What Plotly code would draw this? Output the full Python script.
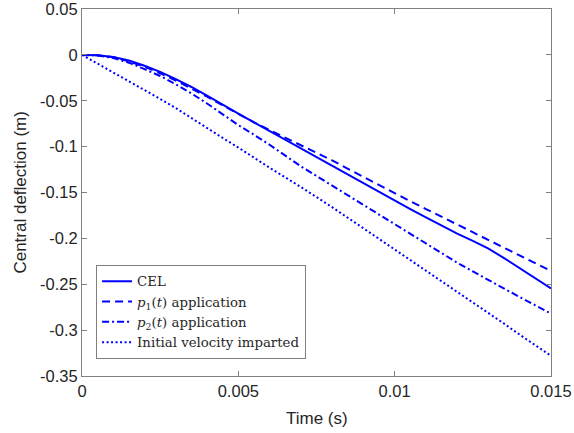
import plotly.graph_objects as go

# ---- data ----
time = [0, 0.0005, 0.001, 0.0015, 0.002, 0.0025, 0.003, 0.0035, 0.004, 0.0045,
        0.005, 0.0055, 0.006, 0.007, 0.008, 0.009, 0.010, 0.0105, 0.011, 0.0115,
        0.012, 0.0125, 0.013, 0.0135, 0.014, 0.0145, 0.015]

cel = [0, -0.0004, -0.0022, -0.0062, -0.0118, -0.0185, -0.0265, -0.035, -0.0445, -0.0545,
       -0.064, -0.0735, -0.083, -0.102, -0.121, -0.140, -0.159, -0.168, -0.177, -0.1862,
       -0.1948, -0.2028, -0.2112, -0.2215, -0.2325, -0.2435, -0.2545]

p1 = [0, -0.0005, -0.0025, -0.007, -0.013, -0.020, -0.028, -0.0365, -0.0455, -0.055,
      -0.0645, -0.0735, -0.082, -0.0985, -0.115, -0.133, -0.151, -0.1595, -0.168, -0.1765,
      -0.185, -0.193, -0.2015, -0.210, -0.2185, -0.227, -0.2355]

p2 = [0, -0.0006, -0.0035, -0.0085, -0.0155, -0.023, -0.032, -0.042, -0.053, -0.065,
      -0.0765, -0.087, -0.098, -0.1215, -0.1425, -0.1635, -0.185, -0.1955, -0.206, -0.2163,
      -0.2265, -0.236, -0.2455, -0.255, -0.264, -0.273, -0.282]

init_vel = [0, -0.0095, -0.019, -0.0285, -0.038, -0.048, -0.058, -0.069, -0.080, -0.0905,
            -0.101, -0.112, -0.123, -0.144, -0.166, -0.189, -0.212, -0.2235, -0.235, -0.2465,
            -0.258, -0.2695, -0.281, -0.293, -0.305, -0.3165, -0.328]

series_names = ["CEL",
                "<i>p</i><sub>1</sub>(<i>t</i>) application",
                "<i>p</i><sub>2</sub>(<i>t</i>) application",
                "Initial velocity imparted"]

x_title = "Time (s)"
y_title = "Central deflection (m)"
x_tick_vals = [0, 0.005, 0.01, 0.015]
x_tick_labels = ["0", "0.005", "0.01", "0.015"]
y_tick_vals = [0.05, 0, -0.05, -0.1, -0.15, -0.2, -0.25, -0.3, -0.35]
y_tick_labels = ["0.05", "0", "-0.05", "-0.1", "-0.15", "-0.2", "-0.25", "-0.3", "-0.35"]

# ---- figure ----
blue = "#0000FF"
dashes = ["solid", "8px,5px", "7px,3px,2px,3px", "2px,2.5px"]
ys = [cel, p1, p2, init_vel]

fig = go.Figure()
for name, y, d in zip(series_names, ys, dashes):
    fig.add_trace(go.Scatter(x=time, y=y, mode="lines", name=name,
                             line=dict(color=blue, width=2, dash=d),
                             hoverinfo="skip"))

axis_color = "#808080"
text_color = "#262626"
sans = "Liberation Sans, Arial, sans-serif"
tick_font = dict(family=sans, size=16.5, color=text_color)

common_axis = dict(ticks="inside", ticklen=5, tickcolor=axis_color, showline=True,
                   linecolor=axis_color, linewidth=1, mirror="ticks", showgrid=False,
                   zeroline=False, tickfont=tick_font, automargin=False,
                   ticklabeloverflow="allow")

fig.update_layout(
    width=574, height=433,
    margin=dict(l=82, r=23, t=9, b=57),
    paper_bgcolor="white", plot_bgcolor="white",
    showlegend=True,
    legend=dict(x=0.03, y=0.046, xanchor="left", yanchor="bottom",
                bgcolor="white", bordercolor=axis_color, borderwidth=1,
                font=dict(family="DejaVu Serif, Liberation Serif, serif", size=13.3, color=text_color),
                tracegroupgap=0, itemwidth=30),
    xaxis=dict(range=[0, 0.015], tickvals=x_tick_vals, ticktext=x_tick_labels, **common_axis),
    yaxis=dict(range=[-0.35, 0.05], tickvals=y_tick_vals, ticktext=y_tick_labels, **common_axis),
    annotations=[
        dict(text=x_title, xref="paper", yref="paper", x=0.5, y=-0.115,
             xanchor="center", yanchor="middle", showarrow=False,
             font=dict(family=sans, size=17, color=text_color)),
        dict(text=y_title, xref="paper", yref="paper", x=-0.132, y=0.5,
             xanchor="center", yanchor="middle", showarrow=False, textangle=-90,
             font=dict(family=sans, size=17, color=text_color)),
    ],
)

fig.write_html("out.html",
               config={"displayModeBar": False},
               post_script="document.body.style.margin='0';document.body.style.overflow='hidden';")
